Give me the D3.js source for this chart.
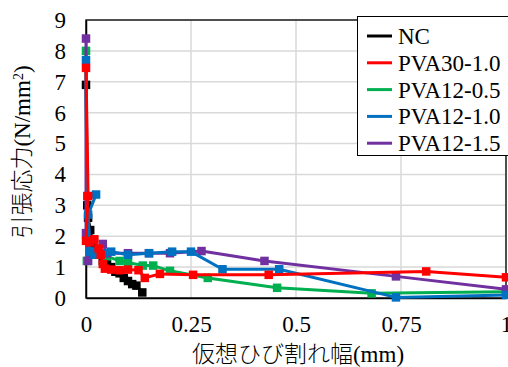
<!DOCTYPE html>
<html>
<head>
<meta charset="utf-8">
<script src="https://cdn.jsdelivr.net/npm/d3@7"></script>
<style>
  html, body { margin: 0; padding: 0; background: #fff; }
  svg { display: block; }
</style>
</head>
<body>
<svg id="chart" width="508" height="367"></svg>
<script>
// Tensile stress vs. virtual crack width for each mix
const seriesNames = ["NC", "PVA30-1.0", "PVA12-0.5", "PVA12-1.0", "PVA12-1.5"];
const seriesColors = ["#000000", "#ff0000", "#00b050", "#0070c0", "#7030a0"];

const ncData = [
  [0.000, 6.90], [0.003, 3.00], [0.005, 2.60], [0.010, 2.20], [0.015, 1.80],
  [0.020, 1.60], [0.030, 1.40], [0.040, 1.20], [0.050, 1.10], [0.060, 1.00],
  [0.070, 0.85], [0.080, 0.80], [0.090, 0.65], [0.100, 0.55], [0.110, 0.45],
  [0.120, 0.40], [0.134, 0.18]
];
const pva30_10Data = [
  [0.000, 7.45], [0.005, 3.30], [0.000, 1.85], [0.010, 1.80], [0.020, 1.90],
  [0.030, 1.60], [0.035, 1.40], [0.040, 1.10], [0.045, 0.95], [0.060, 0.92],
  [0.080, 0.90], [0.100, 0.92], [0.125, 0.90], [0.140, 0.65], [0.176, 0.78],
  [0.255, 0.75], [0.435, 0.75], [0.810, 0.86], [1.000, 0.67]
];
const pva12_05Data = [
  [0.000, 8.00], [0.002, 1.20], [0.020, 1.50], [0.050, 1.35], [0.080, 1.20],
  [0.100, 1.15], [0.135, 1.05], [0.160, 1.05], [0.200, 0.88], [0.290, 0.65],
  [0.455, 0.33], [0.680, 0.15], [1.000, 0.20]
];
const pva12_10Data = [
  [0.000, 7.70], [0.003, 3.30], [0.024, 3.35], [0.005, 2.70], [0.010, 1.50],
  [0.020, 1.40], [0.040, 1.45], [0.060, 1.50], [0.100, 1.40], [0.150, 1.45],
  [0.205, 1.50], [0.250, 1.50], [0.325, 0.93], [0.460, 0.93], [0.738, 0.02],
  [1.000, 0.10]
];
const pva12_15Data = [
  [0.000, 8.40], [0.000, 2.10], [0.005, 1.20], [0.020, 1.50], [0.040, 1.75],
  [0.050, 1.45], [0.100, 1.45], [0.150, 1.45], [0.200, 1.45], [0.275, 1.52],
  [0.425, 1.20], [0.738, 0.70], [1.000, 0.28]
];
const seriesData = [ncData, pva30_10Data, pva12_05Data, pva12_10Data, pva12_15Data];

const xTicks = [0, 0.25, 0.5, 0.75, 1];
const xTickLabels = ["0", "0.25", "0.5", "0.75", "1"];
const yTicks = [0, 1, 2, 3, 4, 5, 6, 7, 8, 9];

const xTitleCjk = "仮想ひび割れ幅";
const xTitleUnit = "(mm)";
const yTitleCjk = "引張応力";
const yTitleUnit = "(N/mm";
const yTitleSup = "2";
const yTitleEnd = ")";

const SERIF = '"Liberation Serif", serif';
const CJK = '"Noto Sans CJK JP", sans-serif';
const svg = d3.select("#chart");
const plot = { left: 86, right: 506, top: 20, bottom: 298 };
const fontSize = "23px";

const x = d3.scaleLinear().domain([0, 1]).range([plot.left, plot.right]);
const y = d3.scaleLinear().domain([0, 9]).range([plot.bottom, plot.top]);

// gridlines
const grid = svg.append("g");
grid.selectAll("line.h").data(yTicks).join("line")
  .attr("x1", plot.left).attr("x2", plot.right)
  .attr("y1", d => y(d)).attr("y2", d => y(d))
  .attr("stroke", "#d9d9d9").attr("stroke-width", 1.5);
grid.selectAll("line.v").data(xTicks).join("line")
  .attr("x1", d => x(d)).attr("x2", d => x(d))
  .attr("y1", plot.top).attr("y2", plot.bottom)
  .attr("stroke", "#d9d9d9").attr("stroke-width", 1.5);

// plot-area frame
svg.append("rect")
  .attr("x", plot.left).attr("y", plot.top)
  .attr("width", plot.right - plot.left).attr("height", plot.bottom - plot.top)
  .attr("fill", "none").attr("stroke", "#000").attr("stroke-width", 1.3);

// axes
const yAxis = d3.axisLeft(y).tickValues(yTicks).tickFormat(d3.format("d")).tickSize(0).tickPadding(20);
const gy = svg.append("g").attr("transform", `translate(${plot.left},0)`).call(yAxis);
gy.select(".domain").attr("stroke", "#000").attr("stroke-width", 1.5);
gy.selectAll("text").style("font-family", SERIF).style("font-size", fontSize).attr("fill", "#000");

const xAxis = d3.axisBottom(x).tickValues(xTicks).tickFormat((d, i) => xTickLabels[i]).tickSize(0).tickPadding(18);
const gx = svg.append("g").attr("transform", `translate(0,${plot.bottom})`).call(xAxis);
gx.select(".domain").attr("stroke", "#000").attr("stroke-width", 1.5);
gx.selectAll("text").style("font-family", SERIF).style("font-size", fontSize).attr("fill", "#000");

// series, drawn so the red series sits on top
const drawOrder = [0, 2, 4, 3, 1];
const line = d3.line().x(d => x(d[0])).y(d => y(d[1]));
const ms = 8.5;
drawOrder.forEach(i => {
  const g = svg.append("g");
  g.append("path").datum(seriesData[i])
    .attr("d", line)
    .attr("fill", "none")
    .attr("stroke", seriesColors[i])
    .attr("stroke-width", 3)
    .attr("stroke-linejoin", "round");
  g.selectAll("rect").data(seriesData[i]).join("rect")
    .attr("x", d => x(d[0]) - ms / 2)
    .attr("y", d => y(d[1]) - ms / 2)
    .attr("width", ms).attr("height", ms)
    .attr("fill", seriesColors[i]);
});

// legend
const legend = svg.append("g");
legend.append("rect")
  .attr("x", 357.5).attr("y", 16.5).attr("width", 160).attr("height", 139)
  .attr("fill", "#fff").attr("stroke", "#000").attr("stroke-width", 1);
seriesNames.forEach((name, i) => {
  const ly = 36 + i * 26.8;
  legend.append("line")
    .attr("x1", 367).attr("x2", 392).attr("y1", ly).attr("y2", ly)
    .attr("stroke", seriesColors[i]).attr("stroke-width", 3);
  legend.append("text")
    .attr("x", 398).attr("y", ly).attr("dy", "0.35em")
    .style("font-family", SERIF)
    .style("font-size", fontSize)
    .text(name);
});

// axis titles
const xt = svg.append("text")
  .attr("x", (plot.left + plot.right) / 2 + 2).attr("y", 354).attr("dy", "0.35em")
  .attr("text-anchor", "middle")
  .style("font-size", fontSize);
xt.append("tspan").style("font-family", CJK).style("font-weight", 300).text(xTitleCjk);
xt.append("tspan").style("font-family", SERIF).text(xTitleUnit);

const yt = svg.append("text")
  .attr("transform", "translate(22,152) rotate(-90)")
  .attr("text-anchor", "middle").attr("dy", "0.35em")
  .style("font-size", fontSize);
yt.append("tspan").style("font-family", CJK).style("font-weight", 300).text(yTitleCjk);
yt.append("tspan").style("font-family", SERIF).text(yTitleUnit);
yt.append("tspan").style("font-family", SERIF).attr("baseline-shift", "super").style("font-size", "14px").text(yTitleSup);
yt.append("tspan").style("font-family", SERIF).text(yTitleEnd);
</script>
</body>
</html>
